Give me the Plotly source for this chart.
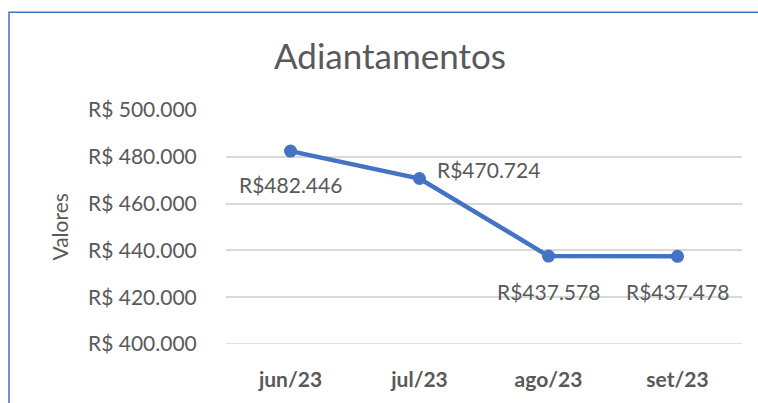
import plotly.graph_objects as go

months = ["jun/23", "jul/23", "ago/23", "set/23"]
values = [482446, 470724, 437578, 437478]
y_ticks = [400000, 420000, 440000, 460000, 480000, 500000]

def brl(v, space=False):
    s = f"{v:,.0f}".replace(",", ".")
    return ("R$ " if space else "R$") + s

FONT = "Lato"
GRAY = "#595959"
BLUE = "#4472C4"
GRID = "#D9D9D9"

fig = go.Figure()
fig.add_trace(go.Scatter(
    x=months, y=values, mode="lines+markers",
    line=dict(color=BLUE, width=4.5),
    marker=dict(color=BLUE, size=13),
    hoverinfo="skip", showlegend=False,
))

# bottom gridline (range boundary)
fig.add_shape(type="line", xref="paper", yref="y", x0=0, x1=1,
              y0=y_ticks[0], y1=y_ticks[0], line=dict(color=GRID, width=1.5),
              layer="below")

# data label offsets (px)
label_shift = [(0, -33), (15, 9), (0, -35), (0, -35)]
label_anchor = ["center", "left", "center", "center"]
for m, v, (dx, dy), anc in zip(months, values, label_shift, label_anchor):
    fig.add_annotation(x=m, y=v, xref="x", yref="y", text=brl(v),
                       showarrow=False, xshift=dx, yshift=dy, xanchor=anc,
                       font=dict(family=FONT, size=21, color=GRAY))

fig.add_annotation(x=(59 - 226) / 516, y=(347 - 229) / 237, xref="paper", yref="paper",
                   text="Valores", textangle=-90, showarrow=False,
                   xanchor="center", yanchor="middle",
                   font=dict(family=FONT, size=21, color=GRAY))

fig.add_annotation(x=(390 - 226) / 516, y=(347 - 54) / 237, xref="paper", yref="paper",
                   text="Adiantamentos", showarrow=False, xanchor="center", yanchor="middle",
                   font=dict(family=FONT, size=35, color=GRAY))

# chart border (Excel chart area outline)
fig.add_shape(type="rect", xref="paper", yref="paper",
              x0=(9 - 226) / 516, x1=3, y0=-3, y1=(347 - 11) / 237,
              line=dict(color=BLUE, width=1.5), fillcolor="rgba(0,0,0,0)")

fig.update_layout(
    width=758, height=403,
    margin=dict(l=226, r=16, t=110, b=56),
    paper_bgcolor="white", plot_bgcolor="white",
    xaxis=dict(range=[-0.5, len(months) - 0.5],
               showgrid=False, showline=False, zeroline=False,
               tickfont=dict(family=FONT, size=21, color=GRAY, weight="bold"),
               ticks="outside", ticklen=17, tickcolor="rgba(0,0,0,0)"),
    yaxis=dict(range=[y_ticks[0], y_ticks[-1]], tickvals=y_ticks,
               ticktext=[brl(v, True) for v in y_ticks],
               showgrid=True, gridcolor=GRID, gridwidth=1.5,
               zeroline=False, showline=False,
               tickfont=dict(family=FONT, size=21, color=GRAY),
               ticks="outside", ticklen=24, tickcolor="rgba(0,0,0,0)"),
)

fig.write_html("out.html", config={"displayModeBar": False},
               post_script="document.body.style.margin='0';")
